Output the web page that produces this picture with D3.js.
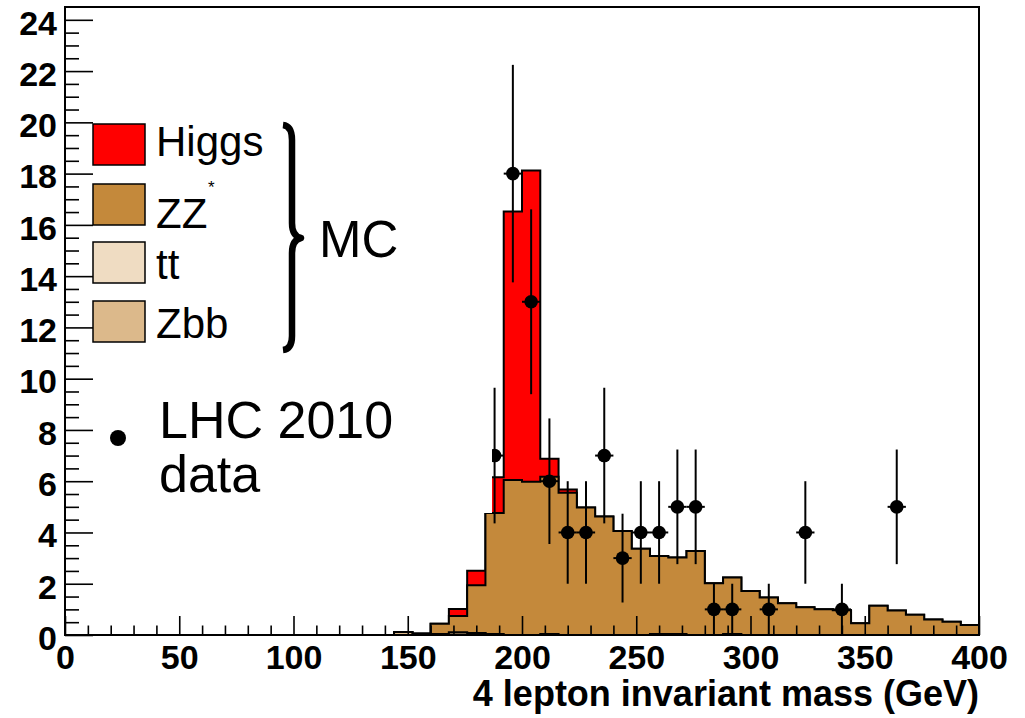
<!DOCTYPE html>
<html>
<head>
<meta charset="utf-8">
<script src="https://cdn.jsdelivr.net/npm/d3@7"></script>
<style>
  body { margin: 0; background: #fff; }
  svg { display: block; }
</style>
</head>
<body>
<div id="chart"></div>
<script>
const width = 1025;
const height = 718;
const margin = {top: 7, right: 46, bottom: 83, left: 65};

// histogram bins: lower edge in GeV, each 8 GeV wide
const binWidth = 8;
const binLow = [144, 152, 160, 168, 176, 184, 192, 200, 208, 216, 224, 232, 240, 248, 256, 264,
                272, 280, 288, 296, 304, 312, 320, 328, 336, 344, 352, 360, 368, 376, 384, 392];

// MC samples, stacked in this order (bottom -> top)
const zbb   = [0.12, 0, 0, 0.1, 0.08, 0, 0, 0, 0, 0, 0, 0, 0, 0, 0, 0,
               0, 0, 0, 0, 0, 0, 0, 0, 0, 0, 0, 0, 0, 0, 0, 0];
const tt    = [0, 0.04, 0.04, 0, 0, 0.04, 0, 0, 0.04, 0, 0, 0, 0, 0, 0.04, 0.04,
               0, 0, 0.04, 0, 0, 0, 0, 0, 0, 0, 0, 0, 0, 0, 0, 0];
const zz    = [0, 0.02, 0.4, 0.64, 1.86, 4.72, 6.05, 5.98, 6.13, 5.55, 4.97, 4.62, 4.06, 3.36, 3.04, 2.98,
               3.28, 2.02, 2.2, 1.72, 1.46, 1.24, 1.08, 1.0, 0.97, 0.46, 1.14, 0.96, 0.79, 0.6, 0.52, 0.39];
const higgs = [0, 0, 0, 0.27, 0.57, 1.39, 10.47, 12.14, 0.71, 0.13, 0, 0, 0, 0, 0, 0,
               0, 0, 0, 0, 0, 0, 0, 0, 0, 0, 0, 0, 0, 0, 0, 0];

// LHC 2010 data: bin centre and number of events
const dataMass  = [188, 196, 204, 212, 220, 228, 236, 244, 252, 260, 268, 276, 284, 292, 308, 324, 340, 364];
const dataCount = [7, 18, 13, 6, 4, 4, 7, 3, 4, 4, 5, 5, 1, 1, 1, 4, 1, 5];

const xTicks = [0, 50, 100, 150, 200, 250, 300, 350, 400];
const yTicks = [0, 2, 4, 6, 8, 10, 12, 14, 16, 18, 20, 22, 24];

const sampleKeys   = ['zbb', 'tt', 'zz', 'higgs'];
const sampleColors = {higgs: '#ff0000', zz: '#c4893b', tt: '#efdcc2', zbb: '#dcb98b'};

const legendItems = [
  {key: 'higgs', label: 'Higgs'},
  {key: 'zz',    label: 'ZZ'},
  {key: 'tt',    label: 'tt'},
  {key: 'zbb',   label: 'Zbb'}
];

const svg = d3.select('#chart')
  .append('svg')
  .attr('width', width)
  .attr('height', height)
  .style('background', '#fff');

const x = d3.scaleLinear().domain([0, 400]).range([margin.left, width - margin.right]);
const y = d3.scaleLinear().domain([0, 24.5]).range([height - margin.bottom, margin.top]);

// stacked histogram
const rows = binLow.map((b, i) => ({b: b, zbb: zbb[i], tt: tt[i], zz: zz[i], higgs: higgs[i]}));
const series = d3.stack().keys(sampleKeys)(rows);

const area = d3.area()
  .curve(d3.curveStepAfter)
  .x(d => x(d.x))
  .y0(y(0))
  .y1(d => y(d.v));

// draw from the top of the stack down so lower layers sit in front
series.slice().reverse().forEach(s => {
  const pts = s.map((d, i) => ({x: binLow[i], v: d[1]}));
  pts.push({x: binLow[binLow.length - 1] + binWidth, v: s[s.length - 1][1]});
  svg.append('path')
    .datum(pts)
    .attr('d', area)
    .attr('fill', sampleColors[s.key])
    .attr('stroke', '#000')
    .attr('stroke-width', 2)
    .attr('stroke-linejoin', 'miter');
});

// data points with sqrt(N) errors
const pts = svg.append('g').attr('class', 'data');
dataMass.forEach((m, i) => {
  const n = dataCount[i];
  const err = Math.sqrt(n);
  pts.append('line')
    .attr('x1', x(m)).attr('x2', x(m))
    .attr('y1', y(Math.max(0, n - err))).attr('y2', y(n + err))
    .attr('stroke', '#000').attr('stroke-width', 2);
  pts.append('line')
    .attr('x1', x(m - binWidth / 2)).attr('x2', x(m + binWidth / 2))
    .attr('y1', y(n)).attr('y2', y(n))
    .attr('stroke', '#000').attr('stroke-width', 2);
  pts.append('circle')
    .attr('cx', x(m)).attr('cy', y(n)).attr('r', 6.8)
    .attr('fill', '#000');
});

// axes (ticks point inward, ROOT style)
const xMinor = d3.range(0, 401, 10).filter(v => v % 50 !== 0);
const yMinor = d3.range(0, 24.01, 0.5).filter(v => v % 2 !== 0);

function styleAxis(g) {
  g.select('.domain').remove();
  g.selectAll('.tick line').attr('stroke', '#000').attr('stroke-width', 1.6);
  g.selectAll('text')
    .attr('fill', '#000')
    .attr('font-family', '"Liberation Sans", Arial, sans-serif')
    .attr('font-weight', 'bold')
    .attr('font-size', 34);
}

svg.append('g')
  .attr('transform', `translate(0,${y(0)})`)
  .call(d3.axisBottom(x).tickValues(xMinor).tickSize(-9.5).tickSizeOuter(0).tickFormat(''))
  .call(styleAxis);
svg.append('g')
  .attr('transform', `translate(0,${y(0)})`)
  .call(d3.axisBottom(x).tickValues(xTicks).tickSize(-19).tickSizeOuter(0).tickPadding(10))
  .call(styleAxis);

svg.append('g')
  .attr('transform', `translate(${x(0)},0)`)
  .call(d3.axisLeft(y).tickValues(yMinor).tickSize(-14).tickSizeOuter(0).tickFormat(''))
  .call(styleAxis);
svg.append('g')
  .attr('transform', `translate(${x(0)},0)`)
  .call(d3.axisLeft(y).tickValues(yTicks).tickSize(-28).tickSizeOuter(0).tickPadding(8))
  .call(styleAxis)
  .selectAll('text').attr('dy', '0.42em');

// frame
svg.append('rect')
  .attr('x', x(0)).attr('y', y(24.5))
  .attr('width', x(400) - x(0)).attr('height', y(0) - y(24.5))
  .attr('fill', 'none').attr('stroke', '#000').attr('stroke-width', 2);

svg.append('text')
  .attr('x', x(400)).attr('y', 706)
  .attr('text-anchor', 'end')
  .attr('font-family', '"Liberation Sans", Arial, sans-serif')
  .attr('font-weight', 'bold')
  .attr('font-size', 36)
  .text('4 lepton invariant mass (GeV)');

// legend (white background box, as in the original)
const leg = svg.append('g').attr('class', 'legend');
leg.append('rect')
  .attr('x', 94).attr('y', 9).attr('width', 398).attr('height', 504)
  .attr('fill', '#fff');

const legTop = [124, 184, 242, 301];
const legBase = [156, 228, 279, 338];
legendItems.forEach((it, i) => {
  leg.append('rect')
    .attr('x', 93).attr('y', legTop[i]).attr('width', 52).attr('height', 41)
    .attr('fill', sampleColors[it.key])
    .attr('stroke', '#000').attr('stroke-width', 1.5);
  leg.append('text')
    .attr('x', 156).attr('y', legBase[i])
    .attr('font-family', '"Liberation Sans", Arial, sans-serif')
    .attr('font-size', 42)
    .text(it.label);
});
// the star of ZZ*, sitting above the end of the label
leg.append('text')
  .attr('x', 208).attr('y', 193)
  .attr('font-family', '"Liberation Sans", Arial, sans-serif')
  .attr('font-size', 17)
  .text('*');

// curly brace around the MC entries
leg.append('path')
  .attr('d', 'M283,125 Q292,126 292,140 L292,223 Q292,236 301,238 Q292,240 292,253 L292,336 Q292,349 283,350')
  .attr('fill', 'none')
  .attr('stroke', '#000')
  .attr('stroke-width', 6.5)
  .attr('stroke-linejoin', 'round');

leg.append('text')
  .attr('x', 319).attr('y', 257)
  .attr('font-family', '"Liberation Sans", Arial, sans-serif')
  .attr('font-size', 51)
  .text('MC');

leg.append('circle').attr('cx', 118).attr('cy', 438).attr('r', 8).attr('fill', '#000');
leg.append('text')
  .attr('x', 159).attr('y', 438)
  .attr('font-family', '"Liberation Sans", Arial, sans-serif')
  .attr('font-size', 52)
  .text('LHC 2010');
leg.append('text')
  .attr('x', 159).attr('y', 492)
  .attr('font-family', '"Liberation Sans", Arial, sans-serif')
  .attr('font-size', 52)
  .text('data');
</script>
</body>
</html>
